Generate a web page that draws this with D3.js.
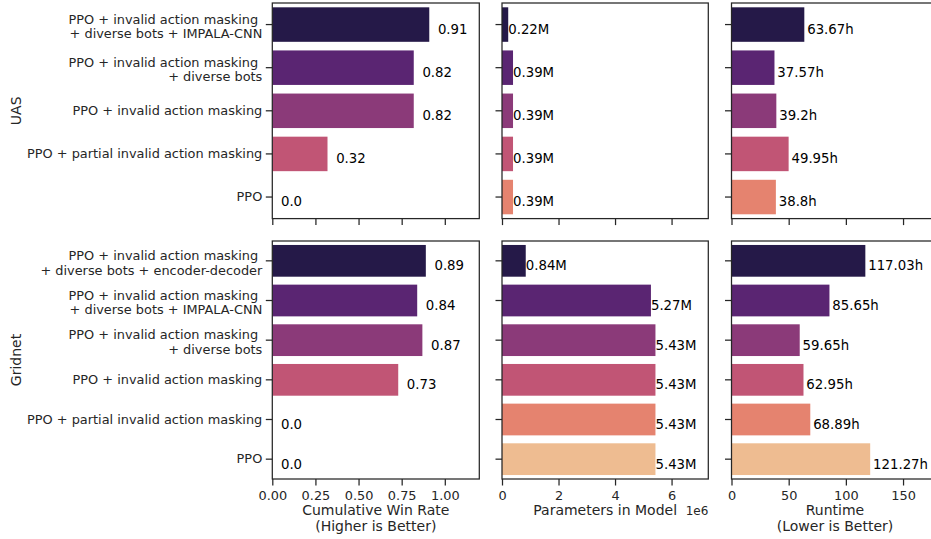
<!DOCTYPE html>
<html>
<head>
<meta charset="utf-8">
<script src="https://cdn.jsdelivr.net/npm/d3@7"></script>
<style>
  html, body { margin: 0; padding: 0; background: #fff; }
  svg { display: block; font-family: "DejaVu Sans", sans-serif; }
  .pre { white-space: pre; }
</style>
</head>
<body>
<svg id="chart" width="931" height="539"></svg>
<script>
// ---- data ----
const uasCategories = [
  "PPO + invalid action masking \n+ diverse bots + IMPALA-CNN",
  "PPO + invalid action masking \n+ diverse bots",
  "PPO + invalid action masking",
  "PPO + partial invalid action masking",
  "PPO"
];
const uasWinRate = [0.91, 0.82, 0.82, 0.32, 0.0];
const uasParams = [0.22e6, 0.39e6, 0.39e6, 0.39e6, 0.39e6];
const uasRuntime = [63.67, 37.57, 39.2, 49.95, 38.8];

const gridnetCategories = [
  "PPO + invalid action masking \n+ diverse bots + encoder-decoder",
  "PPO + invalid action masking \n+ diverse bots + IMPALA-CNN",
  "PPO + invalid action masking \n+ diverse bots",
  "PPO + invalid action masking",
  "PPO + partial invalid action masking",
  "PPO"
];
const gridnetWinRate = [0.89, 0.84, 0.87, 0.73, 0.0, 0.0];
const gridnetParams = [0.84e6, 5.27e6, 5.43e6, 5.43e6, 5.43e6, 5.43e6];
const gridnetRuntime = [117.03, 85.65, 59.65, 62.95, 68.89, 121.27];

const rowNames = ["UAS", "Gridnet"];
const winRateTicks = [0, 0.25, 0.5, 0.75, 1.0];
const paramTicks = [0, 2e6, 4e6, 6e6];
const runtimeTicks = [0, 50, 100, 150];

// desaturated magma palette
const palette = ["#251948", "#5a2572", "#8b3a79", "#c15575", "#e5836f", "#eebc91"];

// ---- layout ----
const svg = d3.select("#chart");
const ink = "#262626";
const fontFamily = "DejaVu Sans";
const tickFont = 12.9;
const valueFont = 13.3;

const columns = [
  { x0: 272.3, x1: 479.3, domain: [0, 1.2], ticks: winRateTicks,
    fmt: d3.format(".2f"), labelOffset: 0.05,
    valueText: v => (Number.isInteger(v) ? v.toFixed(1) : String(v)),
    title: ["Cumulative Win Rate", "(Higher is Better)"] },
  { x0: 502, x1: 708.3, domain: [0, 7.3e6], ticks: paramTicks,
    fmt: d => String(d / 1e6), labelOffset: 0,
    valueText: v => (v / 1e6).toFixed(2) + "M",
    title: ["Parameters in Model"] },
  { x0: 731.5, x1: 938.5, domain: [0, 181], ticks: runtimeTicks,
    fmt: d => String(d), labelOffset: 2.5,
    valueText: v => String(v) + "h",
    title: ["Runtime", "(Lower is Better)"] }
];

const rows = [
  { y0: 3, y1: 218.6, cats: uasCategories,
    series: [uasWinRate, uasParams, uasRuntime] },
  { y0: 241, y1: 479, cats: gridnetCategories,
    series: [gridnetWinRate, gridnetParams, gridnetRuntime] }
];

rows.forEach((row, ri) => {
  const y = d3.scaleBand()
    .domain(row.cats)
    .range([row.y0, row.y1])
    .paddingInner(0.2)
    .paddingOuter(0.1);

  columns.forEach((col, ci) => {
    const x = d3.scaleLinear().domain(col.domain).range([col.x0, col.x1]);
    const values = row.series[ci];
    const g = svg.append("g");

    // bars
    g.selectAll("rect.bar")
      .data(values)
      .join("rect")
      .attr("class", "bar")
      .attr("x", x(0))
      .attr("y", (d, i) => y(row.cats[i]))
      .attr("width", d => x(d) - x(0))
      .attr("height", y.bandwidth())
      .attr("fill", (d, i) => palette[i]);

    // value labels
    g.selectAll("text.val")
      .data(values)
      .join("text")
      .attr("class", "val")
      .attr("x", d => x(d + col.labelOffset))
      .attr("y", (d, i) => y(row.cats[i]) + y.bandwidth() / 2 + 9.4)
      .attr("font-size", valueFont)
      .attr("fill", "#000")
      .text(d => col.valueText(d));

    // left axis (ticks)
    const yAxis = g.append("g")
      .attr("transform", `translate(${col.x0},0)`)
      .call(d3.axisLeft(y).tickSize(6.5).tickSizeOuter(0).tickPadding(3.5))
      .attr("font-family", fontFamily)
      .attr("font-size", tickFont);
    yAxis.select(".domain").remove();
    yAxis.selectAll(".tick line").attr("stroke", ink).attr("stroke-width", 1.25);
    yAxis.selectAll(".tick text").remove();

    if (ci === 0) {
      yAxis.selectAll(".tick").each(function (cat) {
        const lines = cat.split("\n");
        const t = d3.select(this).append("text")
          .attr("class", "pre")
          .attr("text-anchor", "end")
          .attr("fill", ink)
          .attr("font-family", fontFamily)
          .attr("font-size", tickFont);
        if (lines.length === 1) {
          t.append("tspan").attr("x", -10).attr("y", 4.2).text(lines[0]);
        } else {
          t.append("tspan").attr("x", -10).attr("y", -1).text(lines[0]);
          t.append("tspan").attr("x", -10).attr("y", 13.7).text(lines[1]);
        }
      });
    }

    // bottom axis
    const xAxis = g.append("g")
      .attr("transform", `translate(0,${row.y1})`)
      .call(d3.axisBottom(x).tickValues(col.ticks).tickSize(6.5)
        .tickSizeOuter(0).tickPadding(5).tickFormat(col.fmt))
      .attr("font-family", fontFamily)
      .attr("font-size", tickFont);
    xAxis.select(".domain").remove();
    xAxis.selectAll(".tick line").attr("stroke", ink).attr("stroke-width", 1.25);
    xAxis.selectAll(".tick text").attr("fill", ink);
    if (ri === 0) xAxis.selectAll(".tick text").remove();

    // frame
    g.append("rect")
      .attr("x", col.x0).attr("y", row.y0)
      .attr("width", col.x1 - col.x0).attr("height", row.y1 - row.y0)
      .attr("fill", "none").attr("stroke", ink).attr("stroke-width", 1.25);
  });

  // row label
  svg.append("text")
    .attr("transform", `translate(20.7,${(row.y0 + row.y1) / 2}) rotate(-90)`)
    .attr("text-anchor", "middle")
    .attr("font-size", 14)
    .attr("fill", ink)
    .text(rowNames[ri]);
});

// axis titles
columns.forEach(col => {
  const cx = (col.x0 + col.x1) / 2;
  col.title.forEach((line, li) => {
    svg.append("text")
      .attr("x", cx)
      .attr("y", 515.3 + li * 15.4)
      .attr("text-anchor", "middle")
      .attr("font-size", 14)
      .attr("fill", ink)
      .text(line);
  });
});

// scale exponent for parameter axis
svg.append("text")
  .attr("x", columns[1].x1)
  .attr("y", 515)
  .attr("text-anchor", "end")
  .attr("font-size", 12)
  .attr("fill", ink)
  .text("1e6");
</script>
</body>
</html>
